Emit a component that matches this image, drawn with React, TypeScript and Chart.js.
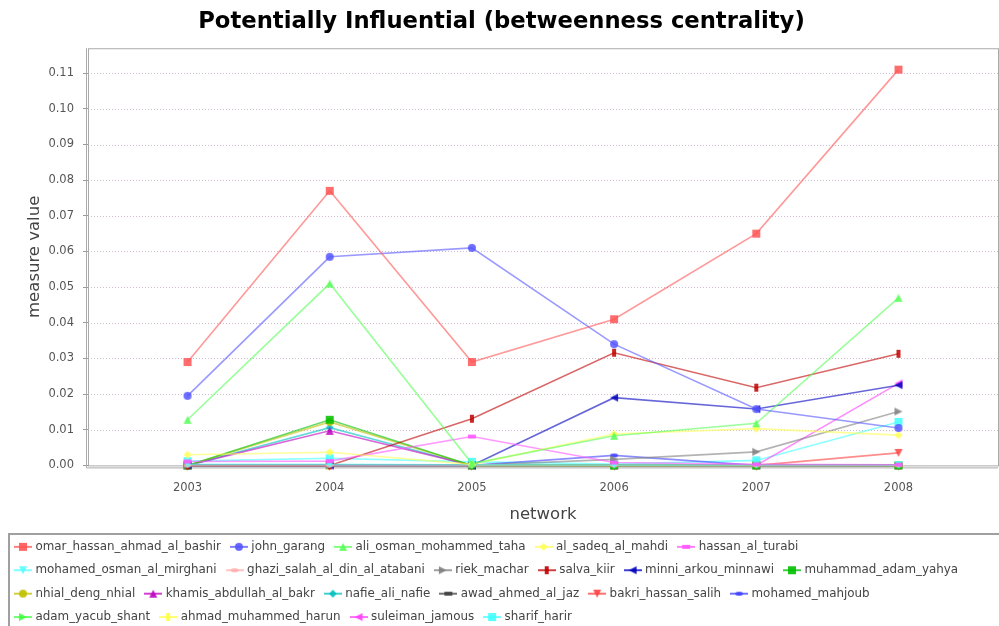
import React, { useEffect, useRef } from 'react';
import { Chart, registerables } from 'chart.js';

Chart.register(...registerables);

const chartTitle = 'Potentially Influential (betweenness centrality)';
const xAxisTitle = 'network';
const yAxisTitle = 'measure value';

const years = [2003, 2004, 2005, 2006, 2007, 2008];
const yTicks = [0, 0.01, 0.02, 0.03, 0.04, 0.05, 0.06, 0.07, 0.08, 0.09, 0.1, 0.11];

const seriesNames = [
  'omar_hassan_ahmad_al_bashir',
  'john_garang',
  'ali_osman_mohammed_taha',
  'al_sadeq_al_mahdi',
  'hassan_al_turabi',
  'mohamed_osman_al_mirghani',
  'ghazi_salah_al_din_al_atabani',
  'riek_machar',
  'salva_kiir',
  'minni_arkou_minnawi',
  'muhammad_adam_yahya',
  'nhial_deng_nhial',
  'khamis_abdullah_al_bakr',
  'nafie_ali_nafie',
  'awad_ahmed_al_jaz',
  'bakri_hassan_salih',
  'mohamed_mahjoub',
  'adam_yacub_shant',
  'ahmad_muhammed_harun',
  'suleiman_jamous',
  'sharif_harir',
];

const omarHassanAhmadAlBashir = [0.029, 0.077, 0.029, 0.041, 0.065, 0.111];
const johnGarang = [0.0195, 0.0585, 0.061, 0.034, 0.0158, 0.0105];
const aliOsmanMohammedTaha = [0.0128, 0.051, 0.0005, 0.0083, 0.0118, 0.047];
const alSadeqAlMahdi = [0.003, 0.0037, 0.0003, 0.0088, 0.0103, 0.0085];
const hassanAlTurabi = [0.0011, 0.0012, 0.0081, 0.0008, 0.0003, 0.0002];
const mohamedOsmanAlMirghani = [0.0003, 0.0003, 0.0002, 0.0001, 0.0001, 0.0001];
const ghaziSalahAlDinAlAtabani = [0, 0, 0, 0, 0, 0];
const riekMachar = [0, 0, 0, 0.0017, 0.0038, 0.0151];
const salvaKiir = [0, 0, 0.0131, 0.0316, 0.0218, 0.0313];
const minniArkouMinnawi = [0, 0, 0, 0.019, 0.0158, 0.0225];
const muhammadAdamYahya = [0, 0.0128, 0, 0, 0, 0];
const nhialDengNhial = [0, 0.0122, 0, 0, 0, 0];
const khamisAbdullahAlBakr = [0, 0.0097, 0, 0, 0, 0];
const nafieAliNafie = [0, 0.0106, 0, 0, 0, 0];
const awadAhmedAlJaz = [0, 0, 0, 0, 0, 0];
const bakriHassanSalih = [0, 0, 0, 0, 0, 0.0035];
const mohamedMahjoub = [0, 0, 0, 0.0028, 0, 0];
const adamYacubShant = [0, 0, 0, 0, 0, 0];
const ahmadMuhammedHarun = [0, 0, 0, 0, 0, 0];
const suleimanJamous = [0, 0, 0, 0, 0, 0.023];
const sharifHarir = [0.0012, 0.002, 0.001, 0.0004, 0.0014, 0.0122];

const seriesValues = [
  omarHassanAhmadAlBashir,
  johnGarang,
  aliOsmanMohammedTaha,
  alSadeqAlMahdi,
  hassanAlTurabi,
  mohamedOsmanAlMirghani,
  ghaziSalahAlDinAlAtabani,
  riekMachar,
  salvaKiir,
  minniArkouMinnawi,
  muhammadAdamYahya,
  nhialDengNhial,
  khamisAbdullahAlBakr,
  nafieAliNafie,
  awadAhmedAlJaz,
  bakriHassanSalih,
  mohamedMahjoub,
  adamYacubShant,
  ahmadMuhammedHarun,
  suleimanJamous,
  sharifHarir,
];

const seriesColors = [
  '#FF5555', '#5555FF', '#55FF55', '#FFFF55', '#FF55FF', '#55FFFF', '#FFAFAF',
  '#808080', '#C00000', '#0000C0', '#00C000', '#C0C000', '#C000C0', '#00C0C0',
  '#404040', '#FF4040', '#4040FF', '#40FF40', '#FFFF40', '#FF40FF', '#40FFFF',
];

const seriesShapes = [
  'square', 'circle', 'up', 'diamond', 'hrect', 'down', 'hellipse', 'right', 'vrect', 'left',
  'square', 'circle', 'up', 'diamond', 'hrect', 'down', 'hellipse', 'right', 'vrect', 'left',
  'square',
];

function rgba(hex: string, a: number) {
  const r = parseInt(hex.slice(1, 3), 16);
  const g = parseInt(hex.slice(3, 5), 16);
  const b = parseInt(hex.slice(5, 7), 16);
  return `rgba(${r},${g},${b},${a})`;
}

function drawShape(ctx: CanvasRenderingContext2D, shape: string, cx: number, cy: number, s: number) {
  ctx.beginPath();
  switch (shape) {
    case 'square':
      ctx.rect(cx - s, cy - s, 2 * s, 2 * s);
      break;
    case 'circle':
      ctx.arc(cx, cy, s, 0, Math.PI * 2);
      break;
    case 'up':
      ctx.moveTo(cx, cy - s);
      ctx.lineTo(cx + s, cy + s);
      ctx.lineTo(cx - s, cy + s);
      ctx.closePath();
      break;
    case 'down':
      ctx.moveTo(cx - s, cy - s);
      ctx.lineTo(cx + s, cy - s);
      ctx.lineTo(cx, cy + s);
      ctx.closePath();
      break;
    case 'diamond':
      ctx.moveTo(cx, cy - s);
      ctx.lineTo(cx + s, cy);
      ctx.lineTo(cx, cy + s);
      ctx.lineTo(cx - s, cy);
      ctx.closePath();
      break;
    case 'hrect':
      ctx.rect(cx - s, cy - s / 2, 2 * s, s);
      break;
    case 'vrect':
      ctx.rect(cx - s / 2, cy - s, s, 2 * s);
      break;
    case 'hellipse':
      ctx.ellipse(cx, cy, s, s / 2, 0, 0, Math.PI * 2);
      break;
    case 'right':
      ctx.moveTo(cx - s, cy - s);
      ctx.lineTo(cx + s, cy);
      ctx.lineTo(cx - s, cy + s);
      ctx.closePath();
      break;
    case 'left':
      ctx.moveTo(cx + s, cy - s);
      ctx.lineTo(cx - s, cy);
      ctx.lineTo(cx + s, cy + s);
      ctx.closePath();
      break;
  }
  ctx.fill();
}

function makeMarker(shape: string, color: string) {
  const c = document.createElement('canvas');
  c.width = 10;
  c.height = 10;
  const ctx = c.getContext('2d')!;
  ctx.fillStyle = rgba(color, 0.85);
  drawShape(ctx, shape, 5, 5, 4);
  return c;
}

function makeLegendIcon(shape: string, color: string) {
  const c = document.createElement('canvas');
  c.width = 18;
  c.height = 10;
  const ctx = c.getContext('2d')!;
  ctx.strokeStyle = rgba(color, 0.75);
  ctx.lineWidth = 2;
  ctx.beginPath();
  ctx.moveTo(0, 5);
  ctx.lineTo(18, 5);
  ctx.stroke();
  ctx.fillStyle = rgba(color, 0.9);
  drawShape(ctx, shape, 9, 5, 4);
  return c;
}

const plotDecor = {
  id: 'plotDecor',
  beforeDatasetsDraw(chart: any) {
    const { ctx, chartArea } = chart;
    const y = chart.scales.y;
    ctx.save();
    ctx.strokeStyle = '#d0bcd0';
    ctx.lineWidth = 1;
    ctx.setLineDash([1, 2]);
    yTicks.forEach((v) => {
      if (v === 0) return;
      const py = Math.round(y.getPixelForValue(v)) + 0.5;
      ctx.beginPath();
      ctx.moveTo(chartArea.left, py);
      ctx.lineTo(chartArea.right, py);
      ctx.stroke();
    });
    ctx.setLineDash([]);
    ctx.strokeStyle = '#aaaaaa';
    ctx.lineWidth = 1;
    ctx.strokeRect(chartArea.left + 0.5, chartArea.top + 0.5, chartArea.right - chartArea.left, chartArea.bottom - chartArea.top);
    ctx.beginPath();
    ctx.moveTo(chartArea.left - 1.5, chartArea.top);
    ctx.lineTo(chartArea.left - 1.5, chartArea.bottom + 2.5);
    ctx.lineTo(chartArea.right, chartArea.bottom + 2.5);
    ctx.stroke();
    ctx.restore();
  },
  afterDraw(chart: any) {
    const { ctx } = chart;
    ctx.save();
    ctx.strokeStyle = '#a0a0a0';
    ctx.lineWidth = 2;
    ctx.strokeRect(9, 534, 1010, 120);
    ctx.restore();
  },
};

export default function App() {
  const ref = useRef<HTMLCanvasElement>(null);

  useEffect(() => {
    document.body.style.margin = '0';
    const canvas = ref.current!;
    Chart.defaults.font.family = "'DejaVu Sans', sans-serif";

    const markers = seriesNames.map((_, i) => makeMarker(seriesShapes[i], seriesColors[i]));
    const icons = seriesNames.map((_, i) => makeLegendIcon(seriesShapes[i], seriesColors[i]));

    const datasets = seriesNames.map((name, i) => ({
      label: name,
      data: years.map((yr, j) => ({ x: yr, y: seriesValues[i][j] })),
      borderColor: rgba(seriesColors[i], 0.6),
      backgroundColor: rgba(seriesColors[i], 0.85),
      borderWidth: 1.6,
      pointStyle: markers[i],
      pointRadius: 4,
      pointHoverRadius: 4,
      tension: 0,
      fill: false,
      clip: false as any,
    }));

    const chart = new Chart(canvas, {
      type: 'line',
      data: { datasets },
      options: {
        animation: false,
        responsive: false,
        layout: { autoPadding: false, padding: { left: 5, right: 1, top: 0, bottom: -7 } },
        plugins: {
          title: {
            display: true,
            text: chartTitle,
            color: '#000',
            font: { size: 22.7, weight: 'bold', family: "'DejaVu Sans', sans-serif" },
            padding: { top: 8, bottom: 13 },
          },
          legend: {
            position: 'bottom',
            align: 'start',
            labels: {
              usePointStyle: true,
              pointStyleWidth: 13,
              padding: 11.5,
              color: '#444',
              font: { size: 11.9 },
              generateLabels: (ch: any) =>
                ch.data.datasets.map((ds: any, i: number) => ({
                  text: ds.label,
                  pointStyle: icons[i],
                  datasetIndex: i,
                  hidden: false,
                  fillStyle: 'transparent',
                  strokeStyle: 'transparent',
                  lineWidth: 0,
                  fontColor: '#444',
                })),
            },
          },
          tooltip: { enabled: false },
        },
        scales: {
          x: {
            type: 'linear',
            min: 2002.3,
            max: 2008.7,
            afterBuildTicks: (scale: any) => {
              scale.ticks = years.map((v) => ({ value: v }));
            },
            afterFit: (scale: any) => {
              scale.height = 64;
              scale.paddingLeft = 0;
              scale.paddingRight = 0;
            },
            ticks: {
              color: '#555',
              font: { size: 11.5 },
              padding: 11,
              maxRotation: 0,
              callback: (v: any) => String(v),
            },
            grid: { drawOnChartArea: false, drawTicks: true, tickLength: 5, color: '#999' },
            border: { display: false },
            title: {
              display: true,
              text: xAxisTitle,
              color: '#444',
              font: { size: 16.5 },
              padding: { top: 4, bottom: 5 },
            },
          },
          y: {
            type: 'linear',
            min: 0,
            max: 0.117,
            afterBuildTicks: (scale: any) => {
              scale.ticks = yTicks.map((v) => ({ value: v }));
            },
            afterFit: (scale: any) => {
              scale.width = 83;
            },
            ticks: {
              color: '#555',
              font: { size: 11.5 },
              padding: 9,
              callback: (v: any) => Number(v).toFixed(2),
            },
            grid: { drawOnChartArea: false, drawTicks: true, tickLength: 5, color: '#999' },
            border: { display: false },
            title: {
              display: true,
              text: yAxisTitle,
              color: '#444',
              font: { size: 16.5 },
              padding: { top: 20, bottom: 0 },
            },
          },
        },
      },
      plugins: [plotDecor],
    } as any);

    return () => chart.destroy();
  }, []);

  return (
    <div style={{ width: 999, height: 626 }}>
      <canvas ref={ref} width={999} height={626} />
    </div>
  );
}
